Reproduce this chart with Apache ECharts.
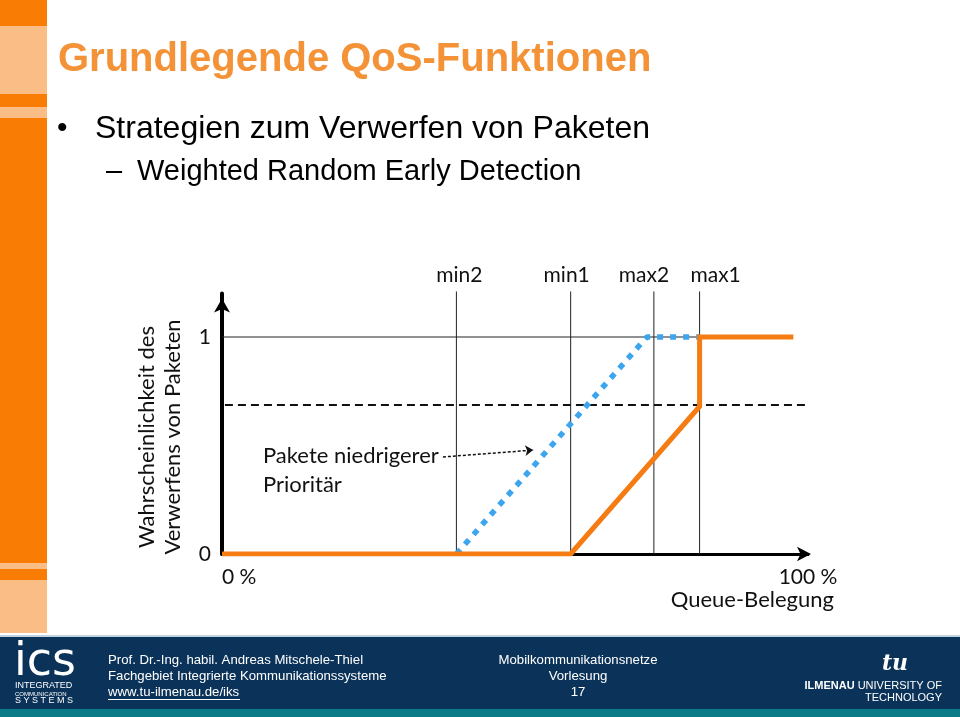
<!DOCTYPE html>
<html>
<head>
<meta charset="utf-8">
<script src="https://cdn.jsdelivr.net/npm/echarts@6/dist/echarts.min.js"></script>
<style>
html,body{margin:0;padding:0;background:#fff;}
#chart{width:960px;height:717px;}
</style>
</head>
<body>
<div id="chart"></div>
<script>
// ---- data ----
var thresholdNames = ['min2', 'min1', 'max2', 'max1'];
var thresholdValues = [40, 59.5, 73.7, 81.5];
var highPrioX = [0, 59.5, 81.5, 81.5, 97.5];
var highPrioY = [0, 0, 0.68, 1, 1];
var lowPrioX = [40, 72.5, 81.5];
var lowPrioY = [0, 1, 1];
var maxProbLevel = 0.687;
var yTickValues = [0, 1];
var xTickValues = [0, 100];
var arrowFromX = 37.7, arrowFromY = 0.447, arrowToX = 53.1, arrowToY = 0.479;

var chart = echarts.init(document.getElementById('chart'), null, {renderer: 'canvas'});
var F = 'Lato, "Open Sans", sans-serif';
var A = '"Liberation Sans", Arial, sans-serif';
var N = '"Liberation Sans Narrow", "Liberation Sans", Arial, sans-serif';

function zip(xs, ys) { return xs.map(function (x, i) { return [x, ys[i]]; }); }

var labelOffsets = {min2: [3, 0], min1: [-4, 0], max2: [-10, 0], max1: [16, 0]};

var series = [];
// threshold verticals
thresholdValues.forEach(function (v, i) {
  series.push({
    type: 'line', silent: true, symbol: 'none', z: 1, clip: false,
    lineStyle: {color: '#222', width: 1},
    data: [[v, 0], [v, 1.21]]
  });
});
// threshold labels
series.push({
  type: 'scatter', silent: true, z: 6, symbolSize: 1, clip: false,
  itemStyle: {color: 'rgba(0,0,0,0)', opacity: 1},
  data: thresholdValues.map(function (v, i) {
    return {value: [v, 1.21], name: thresholdNames[i], label: {offset: labelOffsets[thresholdNames[i]]}};
  }),
  label: {show: true, position: 'top', distance: 5, formatter: '{b}', fontFamily: F, fontSize: 21, color: '#111', opacity: 1}
});
// level 1 line
series.push({type: 'line', silent: true, symbol: 'none', z: 1,
  lineStyle: {color: '#222', width: 1},
  data: [[0, 1], [thresholdValues[3], 1]]});
// dashed max prob
series.push({type: 'line', silent: true, symbol: 'none', z: 1,
  lineStyle: {color: '#111', width: 2, type: [8, 5]},
  data: [[0.5, maxProbLevel], [100, maxProbLevel]]});
// low priority (blue dotted)
series.push({type: 'line', silent: true, symbol: 'none', z: 3,
  lineStyle: {color: '#3DA5EE', width: 5.5, type: [6, 7], cap: 'butt'},
  data: zip(lowPrioX, lowPrioY)});
// high priority (orange)
series.push({type: 'line', silent: true, symbol: 'none', z: 4,
  lineStyle: {color: '#F47C12', width: 5, cap: 'butt', join: 'miter'},
  data: zip(highPrioX, highPrioY)});
// annotation arrow
series.push({type: 'lines', coordinateSystem: 'cartesian2d', silent: true, z: 5,
  symbol: ['none', 'arrow'], symbolSize: 8,
  lineStyle: {color: '#111', width: 1.5, type: [3, 2], opacity: 1},
  data: [{coords: [[arrowFromX, arrowFromY], [arrowToX, arrowToY]]}]});

var orangeDark = '#F97C05', orangeLight = '#FBBD86';
var graphics = [
  // left orange bar
  {type: 'rect', shape: {x: 0, y: 0, width: 47, height: 633}, style: {fill: orangeDark}, z: 0},
  {type: 'rect', shape: {x: 0, y: 26, width: 47, height: 68}, style: {fill: orangeLight}, z: 1},
  {type: 'rect', shape: {x: 0, y: 107, width: 47, height: 11}, style: {fill: orangeLight}, z: 1},
  {type: 'rect', shape: {x: 0, y: 563, width: 47, height: 6}, style: {fill: orangeLight}, z: 1},
  {type: 'rect', shape: {x: 0, y: 580, width: 47, height: 53}, style: {fill: orangeLight}, z: 1},
  // title
  {type: 'text', x: 58, y: 60, style: {text: 'Grundlegende QoS-Funktionen', fontFamily: A, fontWeight: 'bold', fontSize: 40, fill: '#F39236', verticalAlign: 'middle'}},
  {type: 'text', x: 57, y: 129, style: {text: '•', fontFamily: A, fontSize: 30, fill: '#000', verticalAlign: 'middle'}},
  {type: 'text', x: 95, y: 129, style: {text: 'Strategien zum Verwerfen von Paketen', fontFamily: A, fontSize: 32, fill: '#000', verticalAlign: 'middle'}},
  {type: 'text', x: 106, y: 172, style: {text: '–', fontFamily: A, fontSize: 29, fill: '#000', verticalAlign: 'middle'}},
  {type: 'text', x: 137, y: 172, style: {text: 'Weighted Random Early Detection', fontFamily: A, fontSize: 29, fill: '#000', verticalAlign: 'middle'}},
  // axis titles / annotation
  {type: 'text', x: 160, y: 437, rotation: Math.PI / 2, style: {
    text: 'Wahrscheinlichkeit des\nVerwerfens von Paketen', fontFamily: F, fontSize: 22, lineHeight: 26,
    fill: '#111', align: 'center', verticalAlign: 'middle'}},
  {type: 'text', x: 263, y: 470, style: {text: 'Pakete niedrigerer\nPrioritär', fontFamily: F, fontSize: 22, lineHeight: 29, fill: '#111', verticalAlign: 'middle'}},
  {type: 'text', x: 834, y: 600, style: {text: 'Queue-Belegung', fontFamily: F, fontSize: 22, fill: '#111', align: 'right', verticalAlign: 'middle'}},
  // footer
  {type: 'rect', shape: {x: 0, y: 635, width: 960, height: 2}, style: {fill: '#BFD3E0'}, z: 1},
  {type: 'rect', shape: {x: 0, y: 637, width: 960, height: 73}, style: {fill: '#0B3359'}, z: 1},
  {type: 'rect', shape: {x: 0, y: 709, width: 960, height: 8}, style: {fill: '#0B7B87'}, z: 1},
  {type: 'text', x: 14, y: 663, z: 2, style: {text: 'ics', fontFamily: '"DejaVu Sans", sans-serif', fontSize: 46, fill: '#fff', verticalAlign: 'middle'}},
  {type: 'text', x: 15, y: 686, z: 2, style: {text: 'INTEGRATED', fontFamily: A, fontSize: 9, fill: '#fff', verticalAlign: 'middle'}},
  {type: 'text', x: 15, y: 694, z: 2, style: {text: 'COMMUNICATION', fontFamily: A, fontSize: 6, fill: '#fff', verticalAlign: 'middle'}},
  {type: 'text', x: 15, y: 701, z: 2, style: {text: 'S Y S T E M S', fontFamily: A, fontSize: 9, fill: '#fff', verticalAlign: 'middle'}},
  {type: 'text', x: 108, y: 660, z: 2, style: {text: 'Prof. Dr.-Ing. habil. Andreas Mitschele-Thiel', fontFamily: N, fontSize: 13.2, fill: '#fff', verticalAlign: 'middle'}},
  {type: 'text', x: 108, y: 676, z: 2, style: {text: 'Fachgebiet Integrierte Kommunikationssysteme', fontFamily: N, fontSize: 13.2, fill: '#fff', verticalAlign: 'middle'}},
  {type: 'text', x: 108, y: 692, z: 2, style: {text: 'www.tu-ilmenau.de/iks', fontFamily: N, fontSize: 13.2, fill: '#fff', verticalAlign: 'middle'}},
  {type: 'rect', z: 2, shape: {x: 108, y: 699, width: 132, height: 1}, style: {fill: '#fff'}},
  {type: 'text', x: 578, y: 660, z: 2, style: {text: 'Mobilkommunikationsnetze', align: 'center', verticalAlign: 'middle', fontFamily: N, fontSize: 13.2, fill: '#fff'}},
  {type: 'text', x: 578, y: 676, z: 2, style: {text: 'Vorlesung', align: 'center', verticalAlign: 'middle', fontFamily: N, fontSize: 13.2, fill: '#fff'}},
  {type: 'text', x: 578, y: 692, z: 2, style: {text: '17', align: 'center', verticalAlign: 'middle', fontFamily: N, fontSize: 13.2, fill: '#fff'}},
  {type: 'text', x: 895, y: 664, z: 2, style: {text: 'tu', align: 'center', verticalAlign: 'middle', fontFamily: '"DejaVu Serif", serif', fontStyle: 'italic', fontWeight: 'bold', fontSize: 22, fill: '#fff'}},
  {type: 'text', x: 942, y: 686, z: 2, style: {text: '{b|ILMENAU} UNIVERSITY OF', align: 'right', verticalAlign: 'middle', fontFamily: N, fontSize: 11, fill: '#fff',
    rich: {b: {fontFamily: N, fontWeight: 'bold', fontSize: 11, fill: '#fff'}}}},
  {type: 'text', x: 942, y: 698, z: 2, style: {text: 'TECHNOLOGY', align: 'right', verticalAlign: 'middle', fontFamily: N, fontSize: 11, fill: '#fff'}}
];

var option = {
  animation: false,
  backgroundColor: '#fff',
  grid: {left: 222, top: 293.6, width: 586, height: 260.4, containLabel: false},
  xAxis: {
    type: 'value', min: 0, max: 100,
    axisLine: {show: true, onZero: false, symbol: ['none', 'arrow'], symbolSize: [11, 14], symbolOffset: [0, 3],
      lineStyle: {color: '#000', width: 3}},
    axisTick: {show: false}, splitLine: {show: false},
    axisLabel: {show: true, customValues: xTickValues, alignMinLabel: 'left', alignMaxLabel: 'center',
      formatter: function (v) { return v + ' %'; }, fontFamily: F, fontSize: 21, color: '#111', margin: 13}
  },
  yAxis: {
    type: 'value', min: 0, max: 1.2,
    axisLine: {show: true, onZero: false, symbol: ['none', 'arrow'], symbolSize: [12, 14], symbolOffset: [0, -5],
      lineStyle: {color: '#000', width: 4}},
    axisTick: {show: false}, splitLine: {show: false},
    axisLabel: {show: true, customValues: yTickValues, fontFamily: F, fontSize: 21, color: '#111', margin: 11}
  },
  series: series,
  graphic: graphics
};
chart.setOption(option);
</script>
</body>
</html>
